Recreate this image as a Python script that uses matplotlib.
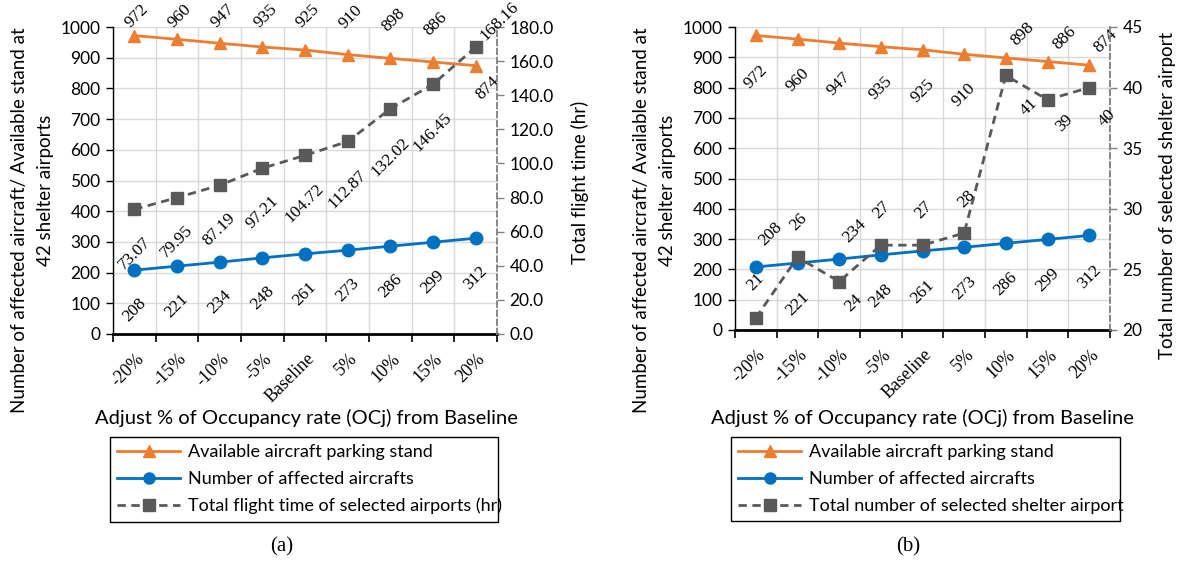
import matplotlib
matplotlib.use('Agg')
import matplotlib.pyplot as plt
from matplotlib.lines import Line2D
from matplotlib.transforms import ScaledTranslation
import numpy as np

# ---------------- data ----------------
categories = ['-20%', '-15%', '-10%', '-5%', 'Baseline', '5%', '10%', '15%', '20%']
available_stand = [972, 960, 947, 935, 925, 910, 898, 886, 874]
affected_aircraft = [208, 221, 234, 248, 261, 273, 286, 299, 312]
flight_time_hr = [73.07, 79.95, 87.19, 97.21, 104.72, 112.87, 132.02, 146.45, 168.16]
shelter_airports = [21, 26, 24, 27, 27, 28, 41, 39, 40]

# ---------------- style ----------------
W, H = 1177, 562
SANS = ['Lato', 'DejaVu Sans']
SERIF = ['Liberation Serif', 'DejaVu Serif']
plt.rcParams['font.family'] = SANS
ORANGE = '#ED7D31'
BLUE = '#0070C0'
GRAY = '#595959'
GRID = '#d9d9d9'
LBL_FS = 12.5
TICK_SERIF_FS = 13

fig = plt.figure(figsize=(W / 100, H / 100), dpi=100)


def rect(x0, y0, x1, y1):
    return [x0 / W, 1 - y1 / H, (x1 - x0) / W, (y1 - y0) / H]


def setup_axes(ax, ax2):
    n = len(categories)
    x = np.arange(n)
    ax.set_xlim(-0.5, n - 0.5)
    ax.set_ylim(0, 1000)
    ax.set_yticks(np.arange(0, 1001, 100))
    ax.set_xticks(x)
    ax.set_xticks(np.arange(-0.5, n, 1), minor=True)
    ax.tick_params(axis='x', which='major', length=0, pad=16,
                   labelsize=TICK_SERIF_FS, labelfontfamily=SERIF)
    ax.set_xticklabels(categories)
    ax.tick_params(axis='x', which='minor', length=6, width=1.2, color='black',
                   direction='out')
    ax.tick_params(axis='y', which='major', length=5, width=1, color='black',
                   labelsize=12.5, pad=4)
    off = ScaledTranslation(7 / 100, 0, fig.dpi_scale_trans)
    for t in ax.get_xticklabels():
        t.set_rotation(45)
        t.set_ha('right')
        t.set_va('center')
        t.set_rotation_mode('anchor')
        t.set_transform(t.get_transform() + off)
    ax.grid(True, which='minor', axis='x', color=GRID, lw=1)
    ax.grid(True, which='major', axis='y', color=GRID, lw=1)
    ax.set_axisbelow(True)
    for s in ['top', 'right']:
        ax.spines[s].set_visible(False)
    ax.spines['bottom'].set_linewidth(2)
    ax.spines['bottom'].set_color('black')
    ax.spines['left'].set_linewidth(1)
    ax.spines['left'].set_color('black')
    for s in ['top', 'left', 'bottom']:
        ax2.spines[s].set_visible(False)
    ax2.spines['right'].set_linestyle((0, (3, 2)))
    ax2.spines['right'].set_color('#7f7f7f')
    ax2.spines['right'].set_linewidth(1.3)
    ax2.tick_params(axis='y', length=5, width=1, color='#7f7f7f', labelsize=12.5, pad=4)
    ax2.patch.set_visible(False)
    return x


def label(ax, x, y, txt, dx, dy):
    ax.annotate(txt, xy=(x, y), xytext=(dx, dy), textcoords='offset pixels',
                ha='center', va='center', rotation=45, fontfamily=SERIF,
                fontsize=LBL_FS, annotation_clip=False, zorder=10)


def draw_lines(ax, ax2, x, right_vals):
    ax.plot(x, available_stand, color=ORANGE, lw=2, marker='^', ms=9, zorder=3)
    ax.plot(x, affected_aircraft, color=BLUE, lw=2, marker='o', ms=9, zorder=3)
    ax2.plot(x, right_vals, color=GRAY, lw=2, ls=(0, (3, 2)), marker='s', ms=9,
             zorder=4)


def legend(x0, y0, x1, y1, third):
    handles = [
        Line2D([], [], color=ORANGE, lw=2, marker='^', ms=8),
        Line2D([], [], color=BLUE, lw=2, marker='o', ms=8),
        Line2D([], [], color=GRAY, lw=2, ls=(0, (3, 2)), marker='s', ms=8),
    ]
    labels = ['Available aircraft parking stand', 'Number of affected aircrafts', third]
    lg = fig.legend(handles, labels, loc='upper left',
                    bbox_to_anchor=(x0 / W, 1 - y1 / H, (x1 - x0) / W, (y1 - y0) / H),
                    mode='expand', fontsize=13, handlelength=3.5, handletextpad=0.4,
                    labelspacing=0.6, borderpad=0.4, fancybox=False, framealpha=1,
                    edgecolor='black', borderaxespad=0)
    lg.get_frame().set_linewidth(1)


# ================= panel (a) =================
axA = fig.add_axes(rect(113, 27, 497, 334))
axA2 = axA.twinx()
xA = setup_axes(axA, axA2)
axA2.set_ylim(0, 180)
axA2.set_yticks(np.arange(0, 181, 20))
axA2.set_yticklabels([f'{v:.1f}' for v in np.arange(0, 181, 20)])
draw_lines(axA, axA2, xA, flight_time_hr)

top_px = H - 16
for i, v in enumerate(available_stand):
    if i == len(available_stand) - 1:
        label(axA, i, v, str(v), 12, -22)
    else:
        ypx = axA.transData.transform((i, v))[1]
        dy = min(38, top_px - ypx)
        label(axA, i, v, str(v), 3, dy)
for i, v in enumerate(affected_aircraft):
    label(axA, i, v, str(v), 0, -40)
for i, v in enumerate(flight_time_hr):
    txt = f'{v:.2f}'
    if i == len(flight_time_hr) - 1:
        label(axA2, i, v, txt, 24, 26)
    else:
        label(axA2, i, v, txt, 0, -44 if len(txt) <= 5 else -48)

YL_FS = 13.5
fig.text(20 / W, 1 - 220 / H, 'Number of affected aircraft/ Available stand at',
         rotation=90, ha='center', va='center', fontsize=YL_FS)
fig.text(46 / W, 1 - 190 / H, '42 shelter airports',
         rotation=90, ha='center', va='center', fontsize=YL_FS)
fig.text(580 / W, 1 - 182 / H, 'Total flight time (hr)',
         rotation=90, ha='center', va='center', fontsize=YL_FS)
fig.text(306 / W, 1 - 418 / H, 'Adjust % of Occupancy rate (OCj) from Baseline',
         ha='center', va='center', fontsize=14.5)
legend(110, 437, 498, 521, 'Total flight time of selected airports (hr)')
fig.text(282 / W, 1 - 547 / H, '(a)', ha='center', va='center', fontsize=15,
         fontfamily=SERIF)

# ================= panel (b) =================
axB = fig.add_axes(rect(735, 27, 1110, 330))
axB2 = axB.twinx()
xB = setup_axes(axB, axB2)
axB2.set_ylim(20, 45)
axB2.set_yticks(np.arange(20, 46, 5))
draw_lines(axB, axB2, xB, shelter_airports)

for i, v in enumerate(available_stand):
    if i >= 6:
        label(axB, i, v, str(v), 17, 24)
    else:
        label(axB, i, v, str(v), 0, -41)
aff_off_b = [(15, 33), (0, -41), (15, 28), (0, -41), (0, -41), (0, -41),
             (0, -41), (0, -41), (0, -41)]
for i, v in enumerate(affected_aircraft):
    label(axB, i, v, str(v), *aff_off_b[i])
shel_off_b = [(0, 36), (1, 35), (14, -21), (1, 35), (1, 35), (2, 34),
              (23, -32), (17, -23), (18, -30)]
for i, v in enumerate(shelter_airports):
    label(axB2, i, v, str(v), *shel_off_b[i])

fig.text(642 / W, 1 - 220 / H, 'Number of affected aircraft/ Available stand at',
         rotation=90, ha='center', va='center', fontsize=YL_FS)
fig.text(668 / W, 1 - 190 / H, '42 shelter airports',
         rotation=90, ha='center', va='center', fontsize=YL_FS)
fig.text(1167 / W, 1 - 195 / H, 'Total number of selected shelter airport',
         rotation=90, ha='center', va='center', fontsize=YL_FS)
fig.text(922 / W, 1 - 418 / H, 'Adjust % of Occupancy rate (OCj) from Baseline',
         ha='center', va='center', fontsize=14.5)
legend(731, 437, 1120, 521, 'Total number of selected shelter airport')
fig.text(908 / W, 1 - 547 / H, '(b)', ha='center', va='center', fontsize=15,
         fontfamily=SERIF)

fig.savefig('out.png', dpi=100)
